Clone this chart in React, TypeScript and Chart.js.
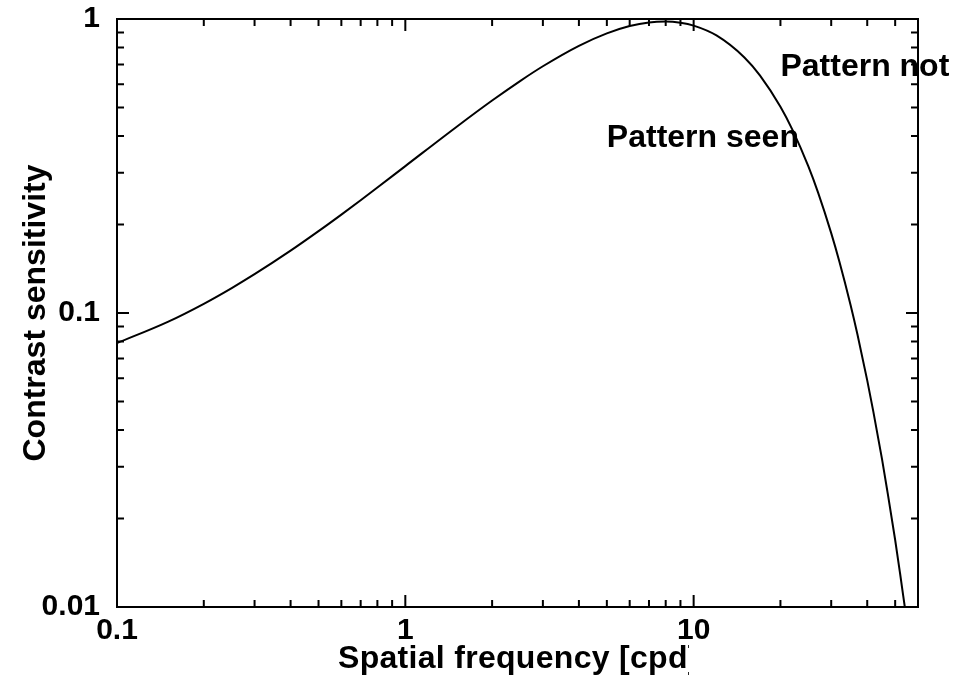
import React, { useEffect, useRef } from 'react';
import { Chart, registerables } from 'chart.js';

Chart.register(...registerables);

// Spatial frequency [cpd] and contrast sensitivity
const frequency = [
  0.1, 0.15, 0.2, 0.25, 0.3, 0.4, 0.5, 0.6, 0.7, 0.8, 1, 1.5, 2, 2.5, 3, 4, 5, 6, 7, 8, 9, 10,
  12, 15, 17, 20, 22, 25, 27, 30, 32, 35, 37, 40, 42, 45, 47, 50, 52, 54,
];
const sensitivity = [
  0.079, 0.0933, 0.1075, 0.1216, 0.1355, 0.1629, 0.1898, 0.2161, 0.2419, 0.2672, 0.316, 0.4285,
  0.528, 0.6151, 0.6907, 0.8105, 0.8937, 0.9464, 0.9738, 0.9807, 0.9714, 0.9495, 0.8792, 0.74,
  0.6418, 0.5028, 0.4203, 0.315, 0.2571, 0.1869, 0.15, 0.1067, 0.0845, 0.059, 0.0462, 0.0319,
  0.0247, 0.0169, 0.013, 0.01,
];

const xTickValues = [
  0.1, 0.2, 0.3, 0.4, 0.5, 0.6, 0.7, 0.8, 0.9, 1, 2, 3, 4, 5, 6, 7, 8, 9, 10, 20, 30, 40, 50,
];
const xMajorTicks = [0.1, 1, 10];
const xTickLabels = ['0.1', '1', '10'];

const yTickValues = [
  0.01, 0.02, 0.03, 0.04, 0.05, 0.06, 0.07, 0.08, 0.09, 0.1, 0.2, 0.3, 0.4, 0.5, 0.6, 0.7, 0.8,
  0.9, 1,
];
const yMajorTicks = [0.01, 0.1, 1];
const yTickLabels = ['0.01', '0.1', '1'];

const xTitle = 'Spatial frequency [cpd]';
const yTitle = 'Contrast sensitivity';

const annotationTexts = ['Pattern seen', 'Pattern not'];
const annotationX = [5, 20];
const annotationY = [0.368, 0.642];

const FONT = '"Liberation Sans", Arial, sans-serif';

const framePlugin = {
  id: 'frameAndText',
  afterDraw(chart: any) {
    const { ctx, chartArea: a, scales } = chart;
    const xs = scales.x;
    const ys = scales.y;
    ctx.save();
    ctx.strokeStyle = '#000';
    ctx.lineWidth = 2;
    ctx.strokeRect(a.left, a.top, a.right - a.left, a.bottom - a.top);
    ctx.beginPath();
    for (const v of xTickValues) {
      const len = xMajorTicks.includes(v) ? 12 : 7;
      const px = xs.getPixelForValue(v);
      ctx.moveTo(px, a.bottom);
      ctx.lineTo(px, a.bottom - len);
      ctx.moveTo(px, a.top);
      ctx.lineTo(px, a.top + len);
    }
    for (const v of yTickValues) {
      const len = yMajorTicks.includes(v) ? 12 : 7;
      const py = ys.getPixelForValue(v);
      ctx.moveTo(a.left, py);
      ctx.lineTo(a.left + len, py);
      ctx.moveTo(a.right, py);
      ctx.lineTo(a.right - len, py);
    }
    ctx.stroke();

    ctx.fillStyle = '#000';
    ctx.font = `bold 32px ${FONT}`;
    ctx.textBaseline = 'alphabetic';
    ctx.textAlign = 'left';
    annotationTexts.forEach((t, i) => {
      ctx.fillText(t, xs.getPixelForValue(annotationX[i]), ys.getPixelForValue(annotationY[i]));
    });

    // x axis title (clipped on the right as in the reference)
    ctx.save();
    ctx.beginPath();
    ctx.rect(0, 0, 689, chart.height);
    ctx.clip();
    (ctx as any).letterSpacing = '0.3px';
    ctx.textAlign = 'left';
    ctx.fillText(xTitle, 338, 668);
    (ctx as any).letterSpacing = '0px';
    ctx.restore();

    // y axis title
    ctx.save();
    ctx.translate(45, (a.top + a.bottom) / 2);
    ctx.rotate(-Math.PI / 2);
    ctx.textAlign = 'center';
    ctx.fillText(yTitle, 0, 0);
    ctx.restore();

    ctx.restore();
  },
};

export default function App() {
  const canvasRef = useRef<HTMLCanvasElement | null>(null);

  useEffect(() => {
    const canvas = canvasRef.current;
    if (!canvas) return;
    Chart.defaults.font.family = FONT;
    const chart = new Chart(canvas, {
      type: 'line',
      data: {
        datasets: [
          {
            data: frequency.map((f, i) => ({ x: f, y: sensitivity[i] })),
            borderColor: '#000',
            borderWidth: 2,
            pointRadius: 0,
            cubicInterpolationMode: 'monotone',
            fill: false,
          },
        ],
      },
      options: {
        animation: false,
        responsive: false,
        devicePixelRatio: 1,
        layout: { padding: { left: 0, top: 19, right: 55, bottom: 0 } },
        plugins: {
          legend: { display: false },
          tooltip: { enabled: false },
          title: { display: false },
        },
        scales: {
          x: {
            type: 'logarithmic',
            min: 0.1,
            max: 60,
            grid: { display: false, drawTicks: false },
            border: { display: false },
            afterBuildTicks: (scale: any) => {
              scale.ticks = xTickValues.map((v) => ({ value: v }));
            },
            afterFit: (scale: any) => {
              scale.height = 72;
              scale.paddingLeft = 0;
              scale.paddingRight = 0;
            },
            ticks: {
              autoSkip: false,
              maxRotation: 0,
              minRotation: 0,
              padding: 6,
              color: '#000',
              font: { size: 30, weight: 'bold', family: FONT },
              callback: (value: any) => {
                const idx = xMajorTicks.indexOf(Number(value));
                return idx >= 0 ? xTickLabels[idx] : '';
              },
            },
          },
          y: {
            type: 'logarithmic',
            min: 0.01,
            max: 1,
            grid: { display: false, drawTicks: false },
            border: { display: false },
            afterBuildTicks: (scale: any) => {
              scale.ticks = yTickValues.map((v) => ({ value: v }));
            },
            afterFit: (scale: any) => {
              scale.width = 117;
              scale.paddingTop = 0;
              scale.paddingBottom = 0;
            },
            ticks: {
              autoSkip: false,
              padding: 17,
              color: '#000',
              font: { size: 30, weight: 'bold', family: FONT },
              callback: (value: any) => {
                const idx = yMajorTicks.indexOf(Number(value));
                return idx >= 0 ? yTickLabels[idx] : '';
              },
            },
          },
        },
      } as any,
      plugins: [framePlugin],
    });
    return () => chart.destroy();
  }, []);

  return (
    <div
      style={{
        position: 'absolute',
        left: 0,
        top: 0,
        width: 973,
        height: 679,
        background: '#fff',
      }}
    >
      <canvas ref={canvasRef} width={973} height={679} style={{ display: 'block' }} />
    </div>
  );
}
